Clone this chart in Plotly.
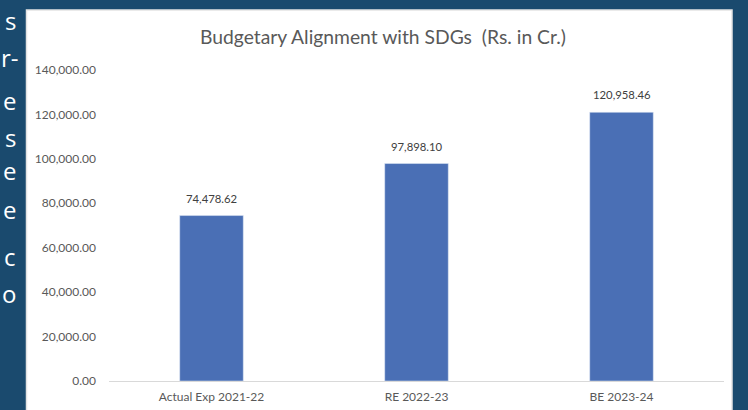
import plotly.graph_objects as go

categories = ["Actual Exp 2021-22", "RE 2022-23", "BE 2023-24"]
values = [74478.62, 97898.10, 120958.46]
value_labels = ["74,478.62", "97,898.10", "120,958.46"]
tick_vals = [0, 20000, 40000, 60000, 80000, 100000, 120000, 140000]
tick_text = ["0.00", "20,000.00", "40,000.00", "60,000.00", "80,000.00",
             "100,000.00", "120,000.00", "140,000.00"]
side_letters = ["s", "r-", "e", "s", "e", "e", "c", "o"]

W, H = 748, 410
L, R, T, B = 109, 24, 70, 29
PW, PH = W - L - R, H - T - B
BG = "#1a4a6e"

def px(x):
    return (x - L) / PW

def py(y):
    return 1 - (y - T) / PH

fig = go.Figure(go.Bar(
    x=categories, y=values,
    marker=dict(color="#4a6fb5"), width=0.31,
))

shapes = [dict(type="rect", xref="paper", yref="paper", layer="below",
               x0=px(26.5), x1=px(732), y0=py(415), y1=py(10),
               fillcolor="white", line=dict(color="#e3e3e3", width=1.5))]

annotations = [dict(text="Budgetary Alignment with SDGs  (Rs. in Cr.)",
                    xref="paper", yref="paper", x=px(383), y=py(37),
                    xanchor="center", yanchor="middle",
                    showarrow=False, font=dict(size=19.3, color="#595959", family="Lato"))]
for c, v, t in zip(categories, values, value_labels):
    annotations.append(dict(text=t, x=c, y=v, xref="x", yref="y",
                            xanchor="center", yanchor="bottom", yshift=9,
                            showarrow=False,
                            font=dict(size=11.3, color="#404040", family="Lato")))
ys = [20, 58, 100, 137, 170, 210, 256, 293]
for letter, yy in zip(side_letters, ys):
    xr = 21 if len(letter) > 1 else 18
    annotations.append(dict(text=letter, xref="paper", yref="paper", x=px(xr), y=py(yy),
                            xanchor="right", yanchor="middle", showarrow=False,
                            font=dict(size=24, color="white", family="Open Sans")))

fig.update_layout(
    width=W, height=H, margin=dict(l=L, r=R, t=T, b=B, pad=0, autoexpand=False),
    paper_bgcolor=BG, plot_bgcolor="white",
    showlegend=False, shapes=shapes, annotations=annotations,
    font=dict(family="Lato", color="#595959"),
    xaxis=dict(showgrid=False, showline=True, linecolor="#d9d9d9", linewidth=1,
               tickfont=dict(size=12, color="#595959"), ticks="", ticklen=0,
               ticklabelstandoff=5, automargin=False),
    yaxis=dict(range=[0, 140000], tickvals=tick_vals, ticktext=tick_text,
               showgrid=False, zeroline=False, showline=False, automargin=False,
               tickfont=dict(size=12, color="#595959"), ticklabelstandoff=12),
)
fig.write_html("out.html", config={"displayModeBar": False},
               post_script="document.body.style.margin='0';document.body.style.background='%s';" % BG)
